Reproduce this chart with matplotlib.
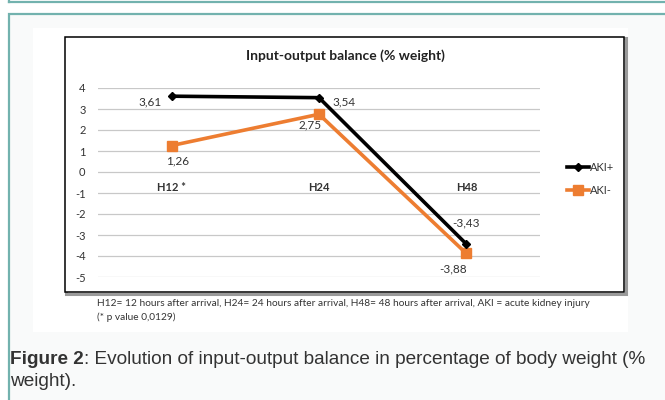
import matplotlib
matplotlib.use("Agg")
import matplotlib.pyplot as plt
from matplotlib.patches import Rectangle

categories = ["H12 *", "H24", "H48"]
aki_pos = [3.61, 3.54, -3.43]
aki_neg = [1.26, 2.75, -3.88]
labels_pos = ["3,61", "3,54", "-3,43"]
labels_neg = ["1,26", "2,75", "-3,88"]
yticks = [-5, -4, -3, -2, -1, 0, 1, 2, 3, 4]

W, H = 665, 400
fig = plt.figure(figsize=(W / 100, H / 100), dpi=100)
fig.patch.set_facecolor("white")

# page background drawn in pixel coords
bg = fig.add_axes([0, 0, 1, 1])
bg.set_xlim(0, W)
bg.set_ylim(H, 0)
bg.axis("off")
teal = "#72b2ae"
txt = "#333333"
bg.add_patch(Rectangle((9, 14), 700, 400, facecolor="#f9fafa", edgecolor=teal, lw=1.6))
bg.plot([9, 700], [1.5, 1.5], color=teal, lw=1.6)
bg.plot([9, 9], [-2, 1.5], color=teal, lw=1.6)
bg.add_patch(Rectangle((33, 28), 595, 304, facecolor="white", edgecolor="none"))
# chart box with shadow
bg.add_patch(Rectangle((66, 38), 560, 256, facecolor="none", edgecolor="#9a9a9a", lw=2.2))
bg.add_patch(Rectangle((65, 37), 559, 255, facecolor="white", edgecolor="black", lw=1.1))

bg.text(345, 56, "Input-output balance (% weight)", ha="center", va="center",
        fontsize=10, fontweight="bold", family="Lato", color="#222222")
bg.text(97, 303, "H12= 12 hours after arrival, H24= 24 hours after arrival, "
        "H48= 48 hours after arrival, AKI = acute kidney injury",
        ha="left", va="center", fontsize=7.3, family="Lato", color=txt)
bg.text(97, 317, "(* p value 0,0129)", ha="left", va="center",
        fontsize=7.3, family="Lato", color=txt)

cap = 13.7
t1 = bg.text(10, 360, "Figure 2", ha="left", va="center", fontsize=cap,
             family="Liberation Sans", fontweight="bold", color=txt)
bg.annotate(": Evolution of input-output balance in percentage of body weight (%",
            xycoords=t1, xy=(1, 0.5), va="center", ha="left", fontsize=cap,
            family="Liberation Sans", color=txt)
bg.text(10, 382, "weight).", ha="left", va="center", fontsize=cap,
        family="Liberation Sans", color=txt)

# main chart
left, right, top, bottom = 98, 540, 88, 277
ax = fig.add_axes([left / W, 1 - bottom / H, (right - left) / W, (bottom - top) / H])
ax.set_facecolor("none")
x = list(range(len(categories)))
ax.plot(x, aki_pos, color="black", lw=2.6, marker="D", ms=4.5, label="AKI+", zorder=4)
ax.plot(x, aki_neg, color="#ed7d31", lw=2.6, marker="s", ms=6.5, label="AKI-", zorder=3)
ax.set_xlim(-0.5, 2.5)
ax.set_ylim(-5, 4)
ax.set_yticks(yticks)
ax.set_yticklabels([str(v) for v in yticks], family="Lato", fontsize=8, color=txt)
ax.set_xticks([])
ax.tick_params(axis="y", length=0, pad=9)
ax.grid(axis="y", color="#c8c8c8", lw=0.9)
ax.set_axisbelow(True)
for s in ax.spines.values():
    s.set_visible(False)

for i, c in enumerate(categories):
    ax.text(i, -0.76, c, ha="center", va="center", fontsize=8, fontweight="bold",
            family="Lato", color=txt)

# label offsets in pixels (right, down)
pos_off = [(-10, 6, "right"), (13, 4, "left"), (0, -21, "center")]
neg_off = [(6, 15, "center"), (-9, 11, "center"), (-13, 15, "center")]
for i in x:
    for vals, labs, offs in ((aki_pos, labels_pos, pos_off), (aki_neg, labels_neg, neg_off)):
        dx, dy, ha = offs[i]
        ax.annotate(labs[i], (i, vals[i]), xytext=(dx * 0.72, -dy * 0.72),
                    textcoords="offset points", ha=ha, va="center", fontsize=8.5,
                    family="Lato", color=txt)

leg = ax.legend(loc="center left", bbox_to_anchor=(557 / W, 1 - 179 / H),
                bbox_transform=fig.transFigure, frameon=False,
                handlelength=2.0, handletextpad=0.1, labelspacing=1.1,
                prop={"family": "Lato", "size": 8})
for t in leg.get_texts():
    t.set_color(txt)

fig.savefig("out.png", dpi=100)
